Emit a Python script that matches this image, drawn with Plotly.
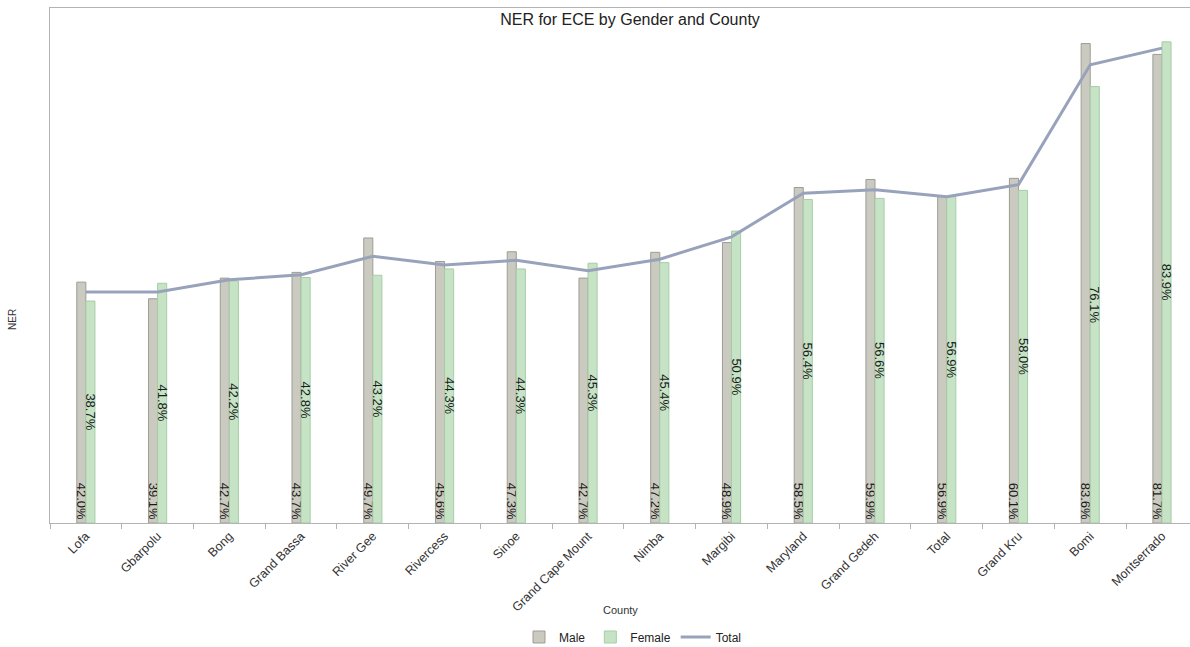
import plotly.graph_objects as go

counties = ["Lofa", "Gbarpolu", "Bong", "Grand Bassa", "River Gee", "Rivercess", "Sinoe",
            "Grand Cape Mount", "Nimba", "Margibi", "Maryland", "Grand Gedeh", "Total",
            "Grand Kru", "Bomi", "Montserrado"]
male = [42.0, 39.1, 42.7, 43.7, 49.7, 45.6, 47.3, 42.7, 47.2, 48.9, 58.5, 59.9, 56.9, 60.1, 83.6, 81.7]
female = [38.7, 41.8, 42.2, 42.8, 43.2, 44.3, 44.3, 45.3, 45.4, 50.9, 56.4, 56.6, 56.9, 58.0, 76.1, 83.9]
total = [40.3, 40.3, 42.4, 43.3, 46.5, 45.0, 45.8, 44.0, 46.0, 49.9, 57.5, 58.1, 56.9, 59.0, 79.9, 82.8]

FONT = "Liberation Sans, Arial, sans-serif"
W, H = 1190, 647
L, R, T, B = 50, 0, 8, 124
pw, ph = W - L - R, H - T - B

fig = go.Figure()
fig.add_trace(go.Bar(
    x=counties, y=male, name="Male",
    marker=dict(color="#cacac1", line=dict(color="#9d9d95", width=1)),
    texttemplate="%{y:.1f}%", textposition="inside", insidetextanchor="start",
    textangle=90, constraintext="none",
    textfont=dict(family=FONT, size=13, color="#1a1a1a"),
    hoverinfo="skip",
))
fig.add_trace(go.Bar(
    x=counties, y=female, name="Female",
    marker=dict(color="#c6e3c6", line=dict(color="#a6cda6", width=1)),
    texttemplate="%{y:.1f}%", textposition="inside", insidetextanchor="middle",
    textangle=90, constraintext="none",
    textfont=dict(family=FONT, size=13, color="#1a1a1a"),
    hoverinfo="skip",
))
fig.add_trace(go.Scatter(
    x=counties, y=total, name="Total", mode="lines",
    line=dict(color="#98a3bb", width=3),
    hoverinfo="skip",
))

cat_w = 71.74
x_end = -0.5 + pw / cat_w

fig.update_layout(
    width=W, height=H,
    margin=dict(l=L, r=R, t=T, b=B, pad=0, autoexpand=False),
    paper_bgcolor="white", plot_bgcolor="white",
    barmode="group", bargap=0.747, bargroupgap=0,
    font=dict(family=FONT, size=11, color="#333333"),
    title=dict(text="NER for ECE by Gender and County", x=630 / W, xanchor="center",
               y=1 - 19 / H, yanchor="middle", xref="container", yref="container",
               font=dict(family=FONT, size=16, color="#222222")),
    xaxis=dict(
        type="category", range=[-0.5, x_end], automargin=False,
        showline=True, linecolor="#b3b3b3", linewidth=1, mirror=True,
        ticks="outside", ticklen=5, tickcolor="#b3b3b3", tickson="boundaries",
        tickangle=-45, tickfont=dict(family=FONT, size=12.5, color="#333333"),
        showgrid=False, zeroline=False,
    ),
    yaxis=dict(
        range=[0, 89.8], showticklabels=False, ticks="", automargin=False,
        showline=True, linecolor="#b3b3b3", linewidth=1,
        showgrid=False, zeroline=False,
    ),
    showlegend=True,
    legend=dict(orientation="h", x=(633 - L) / pw, xanchor="center",
                y=(H - B - 637) / ph, yanchor="middle",
                font=dict(family=FONT, size=12, color="#222222"),
                bgcolor="rgba(0,0,0,0)", itemwidth=30, traceorder="normal"),
    annotations=[
        dict(text="County", xref="paper", yref="paper",
             x=(620 - L) / pw, y=(H - B - 610) / ph, xanchor="center", yanchor="middle",
             showarrow=False, font=dict(family=FONT, size=11, color="#333333")),
        dict(text="NER", xref="paper", yref="paper",
             x=(12 - L) / pw, y=(H - B - 320) / ph, xanchor="center", yanchor="middle",
             textangle=-90, showarrow=False, font=dict(family=FONT, size=10, color="#333333")),
    ],
)

fig.write_html("out.html", config={"displayModeBar": False},
               post_script="document.body.style.margin='0';document.body.style.overflow='hidden';")
